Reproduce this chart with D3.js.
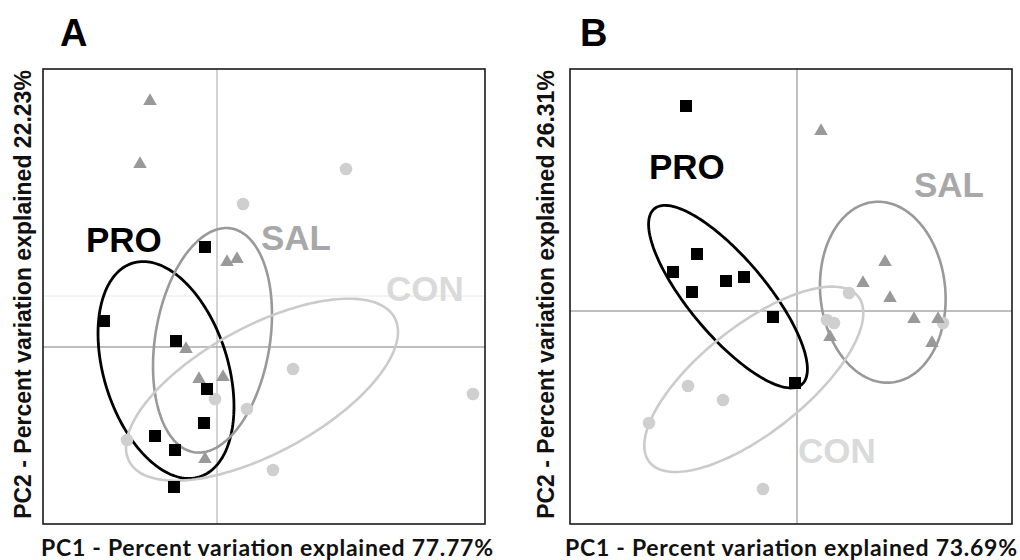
<!DOCTYPE html>
<html>
<head>
<meta charset="utf-8">
<script src="https://cdn.jsdelivr.net/npm/d3@7"></script>
<style>
  body { margin: 0; background: #fff; }
  svg { display: block; }
</style>
</head>
<body>
<svg id="chart" width="1020" height="560"></svg>
<script>
// PCA scores (PC1, PC2)
var groups = ["PRO", "SAL", "CON"];

var proA = [[-0.12, 1.00], [-1.13, 0.26], [-0.41, 0.06], [-0.10, -0.42],
            [-0.13, -0.76], [-0.62, -0.89], [-0.42, -1.03], [-0.43, -1.40]];
var salA = [[-0.67, 2.46], [-0.77, 1.83], [0.10, 0.85], [0.20, 0.88],
            [-0.31, -0.02], [-0.18, -0.32], [0.06, -0.30], [-0.12, -1.12]];
var conA = [[1.29, 1.78], [0.26, 1.43], [0.76, -0.22], [2.56, -0.47],
            [-0.02, -0.52], [0.30, -0.62], [-0.90, -0.93], [0.56, -1.23]];

var proB = [[-1.11, 2.05], [-1.00, 0.57], [-1.24, 0.39], [-1.05, 0.19],
            [-0.71, 0.30], [-0.53, 0.34], [-0.24, -0.06], [-0.02, -0.72]];
var salB = [[0.24, 1.80], [0.88, 0.49], [0.66, 0.28], [0.93, 0.13],
            [1.17, -0.08], [1.41, -0.08], [1.35, -0.32], [0.33, -0.26]];
var conB = [[0.52, 0.18], [0.30, -0.09], [0.37, -0.12], [1.46, -0.12],
            [-1.09, -0.75], [-0.74, -0.89], [-1.48, -1.12], [-0.34, -1.78]];

// confidence ellipses: centre x, centre y, semi-major, semi-minor, angle (deg)
var ellA = [[-0.51, -0.23, 1.12, 0.62, -72.6],
            [-0.045, 0.067, 1.134, 0.573, 80.6],
            [0.45, -0.427, 1.509, 0.633, 28.5]];
var ellB = [[-0.69, 0.143, 1.147, 0.385, -50.0],
            [0.858, 0.188, 0.907, 0.625, -84.4],
            [-0.432, -0.683, 1.332, 0.532, 38.4]];

// group label anchors
var labA = [[-1.31, 0.95], [0.44, 0.97], [1.69, 0.46]];
var labB = [[-1.48, 1.32], [1.17, 1.14], [0.01, -1.52]];

var pcA = ["PC1 - Percent variation explained 77.77%", "PC2 - Percent variation explained 22.23%"];
var pcB = ["PC1 - Percent variation explained 73.69%", "PC2 - Percent variation explained 26.31%"];

var domA = [[-1.74, 2.68], [-1.77, 2.78]];
var domB = [[-2.27, 2.15], [-2.13, 2.42]];

var pointFill = {PRO: "#000000", SAL: "#999999", CON: "#cfcfcf"};
var ringColor = {PRO: "#000000", SAL: "#999999", CON: "#cbcbcb"};
var labelColor = {PRO: "#000000", SAL: "#a8a8a8", CON: "#dadada"};

var svg = d3.select("#chart");

var drawPanel = function(opt) {
  var x = d3.scaleLinear().domain(opt.dom[0]).range([opt.left, opt.right]);
  var y = d3.scaleLinear().domain(opt.dom[1]).range([opt.bottom, opt.top]);
  var g = svg.append("g");

  // reference lines
  if (opt.extra != null) {
    g.append("line")
      .attr("x1", opt.left).attr("x2", opt.right)
      .attr("y1", y(opt.extra)).attr("y2", y(opt.extra))
      .style("stroke", "#e8e8e8").style("stroke-width", 1);
  }
  g.append("line")
    .attr("x1", x(0)).attr("x2", x(0))
    .attr("y1", opt.top).attr("y2", opt.bottom)
    .style("stroke", opt.vColor).style("stroke-width", 1.5);
  g.append("line")
    .attr("x1", opt.left).attr("x2", opt.right)
    .attr("y1", y(0)).attr("y2", y(0))
    .style("stroke", opt.hColor).style("stroke-width", 1.5);

  // ellipses
  var line = d3.line().x(function(d){ return x(d[0]); }).y(function(d){ return y(d[1]); })
    .curve(d3.curveLinearClosed);
  opt.ell.forEach(function(e, i){
    var th = e[4] * Math.PI / 180;
    var pts = d3.range(0, 360, 2).map(function(deg){
      var t = deg * Math.PI / 180;
      return [e[0] + e[2] * Math.cos(th) * Math.cos(t) - e[3] * Math.sin(th) * Math.sin(t),
              e[1] + e[2] * Math.sin(th) * Math.cos(t) + e[3] * Math.cos(th) * Math.sin(t)];
    });
    g.append("path")
      .attr("d", line(pts))
      .style("fill", "none")
      .style("stroke", ringColor[groups[i]])
      .style("stroke-width", i == 0 ? 2.8 : 2.6);
  });

  // points
  g.selectAll(".con").data(opt.con).enter().append("circle")
    .attr("cx", function(d){ return x(d[0]); })
    .attr("cy", function(d){ return y(d[1]); })
    .attr("r", 6.3)
    .style("fill", pointFill.CON);
  g.selectAll(".sal").data(opt.sal).enter().append("path")
    .attr("d", d3.symbol().type(d3.symbolTriangle).size(80))
    .attr("transform", function(d){ return "translate(" + x(d[0]) + "," + y(d[1]) + ")"; })
    .style("fill", pointFill.SAL);
  g.selectAll(".pro").data(opt.pro).enter().append("rect")
    .attr("x", function(d){ return x(d[0]) - 6; })
    .attr("y", function(d){ return y(d[1]) - 6; })
    .attr("width", 12).attr("height", 12)
    .style("fill", pointFill.PRO);

  // group labels
  opt.lab.forEach(function(p, i){
    g.append("text")
      .attr("x", x(p[0])).attr("y", y(p[1]))
      .style("font-family", "'Liberation Sans', Arial, sans-serif")
      .style("font-weight", "bold")
      .style("font-size", "35px")
      .style("fill", labelColor[groups[i]])
      .text(groups[i]);
  });

  // frame
  g.append("rect")
    .attr("x", opt.left).attr("y", opt.top)
    .attr("width", opt.right - opt.left).attr("height", opt.bottom - opt.top)
    .style("fill", "none").style("stroke", "#1a1a1a").style("stroke-width", 1.6);

  // axis titles
  g.append("text")
    .attr("x", opt.xtX).attr("y", 556)
    .attr("text-anchor", "middle")
    .attr("textLength", 452)
    .attr("lengthAdjust", "spacing")
    .style("font-family", "Lato, 'Open Sans', sans-serif")
    .style("font-weight", "bold")
    .style("font-size", "23px")
    .style("fill", "#111")
    .text(opt.pc[0]);
  g.append("text")
    .attr("transform", "translate(" + opt.ytX + "," + ((opt.top + opt.bottom) / 2 - 2) + ") rotate(-90)")
    .attr("text-anchor", "middle")
    .style("font-family", "'Liberation Sans', Arial, sans-serif")
    .style("font-weight", "bold")
    .style("font-size", "23px")
    .style("fill", "#111")
    .text(opt.pc[1]);

  // panel letter
  g.append("text")
    .attr("x", opt.letterX).attr("y", 46)
    .style("font-family", "'Liberation Sans', Arial, sans-serif")
    .style("font-weight", "bold")
    .style("font-size", "38px")
    .style("fill", "#000")
    .text(opt.letter);
};

drawPanel({left: 43, right: 485, top: 69, bottom: 524, dom: domA,
  pro: proA, sal: salA, con: conA, ell: ellA, lab: labA, pc: pcA,
  vColor: "#c4c4c4", hColor: "#a8a8a8", extra: 0.51,
  xtX: 267, ytX: 31, letter: "A", letterX: 60});
drawPanel({left: 570, right: 1012, top: 69, bottom: 524, dom: domB,
  pro: proB, sal: salB, con: conB, ell: ellB, lab: labB, pc: pcB,
  vColor: "#aaaaaa", hColor: "#aaaaaa", extra: null,
  xtX: 791, ytX: 554, letter: "B", letterX: 580});
</script>
</body>
</html>
